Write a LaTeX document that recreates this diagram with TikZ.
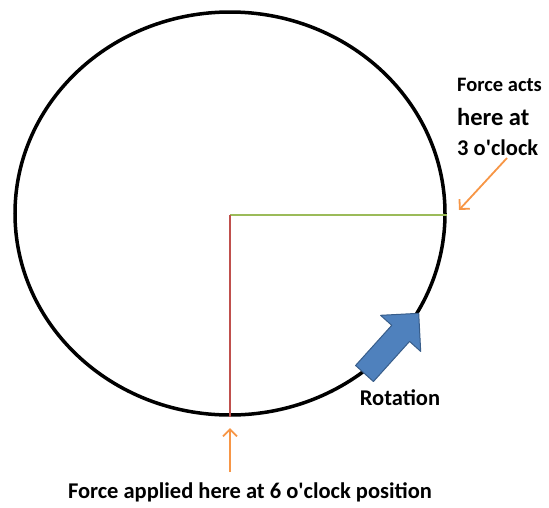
\documentclass[tikz,border=0pt]{standalone}
\usepackage{fontspec}
\setmainfont{Carlito}
\usetikzlibrary{shapes.geometric,arrows.meta}
\definecolor{forceorange}{HTML}{F79646}
\definecolor{radiusgreen}{HTML}{9BBB59}
\definecolor{radiusred}{HTML}{C0504D}
\definecolor{rotfill}{HTML}{4F81BD}
\definecolor{rotdraw}{HTML}{385D8A}
\newcommand{\oclock}{o\textquotesingle clock}
\tikzset{
  label text/.style={font=\bfseries\fontsize{22.5}{26}\selectfont, inner sep=0pt},
  force arrow/.style={forceorange, line width=1.8pt, -{Straight Barb[length=7pt,width=14pt]}},
}
\begin{document}
\begin{tikzpicture}[x=1pt,y=-1pt]
  \useasboundingbox (0,0) rectangle (549,507);
  %
  % Wheel and its two radii
  \node[ellipse, draw, line width=3.5pt, minimum width=430pt, minimum height=403pt, inner sep=0pt] (wheel) at (230,213.5) {};
  \coordinate (hub) at (230,215);
  \draw[radiusgreen, line width=1.3pt] (hub) -- (hub -| wheel.east);
  \draw[radiusred, line width=1.1pt] (hub) -- (hub |- wheel.south);
  %
  % Rotation arrow
  \begin{scope}[shift={(364.5,373.5)}, rotate=48]
    \draw[fill=rotfill, draw=rotdraw, line width=1pt, line join=round]
      (0,-12) -- (54,-12) -- (54,-27) -- (81,0) -- (54,27) -- (54,12) -- (0,12) -- cycle;
  \end{scope}
  \node[label text] (rotation) at (400,398) {Rotation};
  %
  % Force at 6 o'clock
  \coordinate (tail6) at (230,472);
  \coordinate (tip6) at (230,428);
  \draw[force arrow] (tail6) -- (tip6);
  \node[label text] (force6) at (250,492) {Force applied here at 6 \oclock{} position};
  %
  % Force at 3 o'clock
  \node[label text, anchor=west, font=\bfseries\fontsize{20.5}{24}\selectfont] (acts) at (457,85) {Force acts};
  \node[label text, anchor=west, font=\bfseries\fontsize{24.5}{28}\selectfont] (hereat) at (457,117) {here at};
  \node[label text, anchor=west] (clock3) at (457,148) {3 \oclock};
  \coordinate (tail3) at (507,158);
  \coordinate (tip3) at (459,210);
  \draw[force arrow] (tail3) -- (tip3);
\end{tikzpicture}
\end{document}
